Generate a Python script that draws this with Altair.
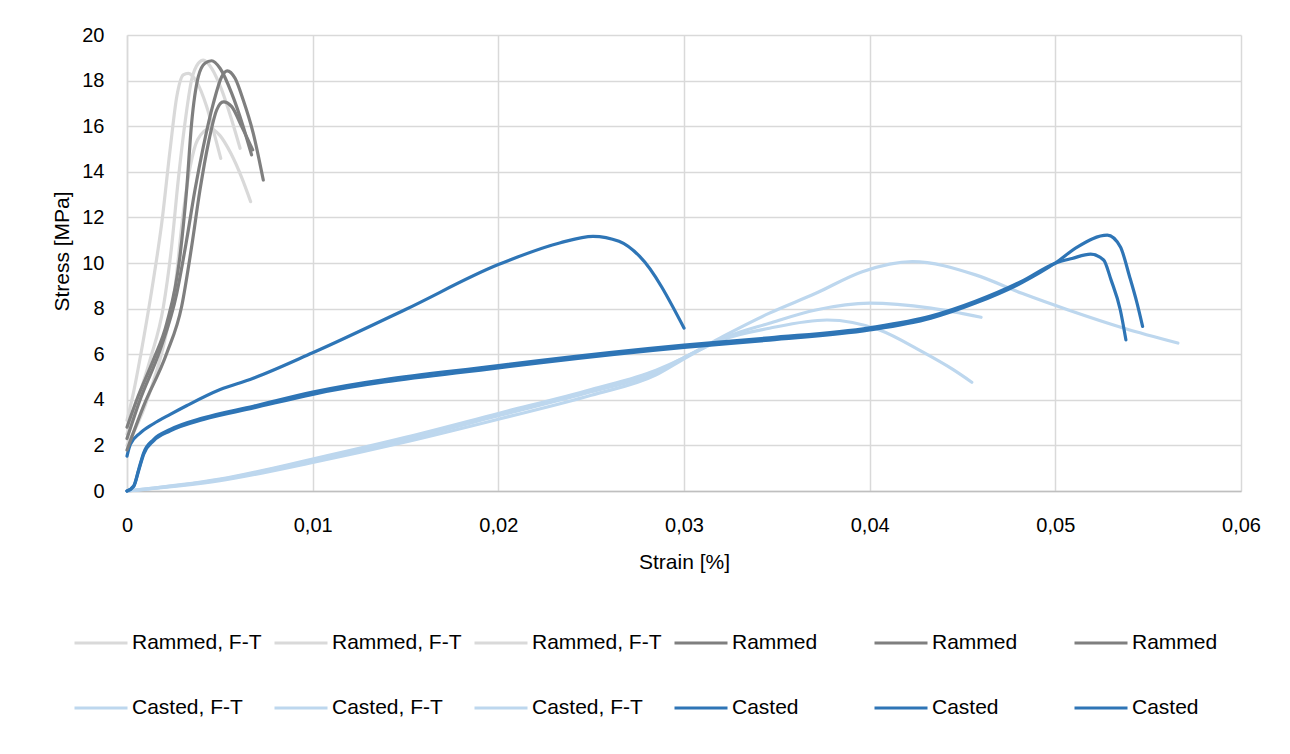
import altair as alt
import pandas as pd

# ---------------- data ----------------
series_names = [
    "Rammed, F-T", "Rammed, F-T ", "Rammed, F-T  ",
    "Rammed", "Rammed ", "Rammed  ",
    "Casted, F-T", "Casted, F-T ", "Casted, F-T  ",
    "Casted", "Casted ", "Casted  ",
]
series_group = ["RFT"] * 3 + ["R"] * 3 + ["CFT"] * 3 + ["C"] * 3
series_colors = ["#d9d9d9"] * 3 + ["#7f7f7f"] * 3 + ["#bdd7ee"] * 3 + ["#2e75b6"] * 3

# Rammed, F-T
rft1_strain = [0, 0.00034, 0.00088, 0.00142, 0.00187, 0.00232, 0.00268, 0.00303, 0.0033, 0.00375, 0.00429, 0.00474, 0.00505]
rft1_stress = [3.1, 4.28, 6.62, 9.25, 11.74, 14.96, 17.29, 18.25, 18.32, 17.95, 16.86, 15.54, 14.59]
rft2_strain = [0, 0.00052, 0.00124, 0.00196, 0.0024, 0.00276, 0.00312, 0.00348, 0.00384, 0.00411, 0.00456, 0.0051, 0.00564, 0.00609]
rft2_stress = [2.5, 3.85, 5.75, 8.08, 10.7, 13.64, 16.13, 18.03, 18.76, 18.9, 18.54, 17.59, 16.27, 15.03]
rft3_strain = [0, 0.001, 0.002, 0.0026, 0.003, 0.0034, 0.0038, 0.00447, 0.005, 0.0056, 0.0062, 0.00666]
rft3_stress = [2.0, 3.8, 6.5, 9.0, 12.0, 14.2, 15.4, 15.9, 15.6, 14.8, 13.7, 12.69]

# Rammed
r1_strain = [0, 0.00052, 0.00142, 0.00214, 0.00285, 0.00321, 0.00348, 0.00384, 0.0042, 0.00456, 0.00501, 0.00564, 0.00626, 0.00671]
r1_stress = [2.8, 3.99, 5.75, 7.35, 10.28, 13.2, 16.13, 18.17, 18.76, 18.87, 18.54, 17.44, 15.98, 14.74]
r2_strain = [0, 0.0007, 0.00178, 0.00268, 0.00321, 0.00366, 0.00411, 0.00465, 0.0051, 0.0054, 0.00582, 0.00626, 0.0068, 0.00734]
r2_stress = [2.3, 3.99, 6.18, 8.67, 11.0, 13.2, 15.1, 17.0, 18.17, 18.43, 18.1, 17.15, 15.69, 13.64]
r3_strain = [0, 0.00088, 0.00214, 0.00294, 0.00348, 0.00393, 0.00438, 0.00483, 0.00519, 0.00564, 0.00618, 0.00677]
r3_stress = [1.8, 3.7, 6.04, 8.08, 10.71, 13.2, 15.25, 16.71, 17.07, 16.86, 15.98, 14.96]

# Casted, F-T
cft1_strain = [0, 0.005, 0.01, 0.015, 0.02, 0.025, 0.0285, 0.03, 0.0321, 0.0346, 0.0371, 0.0396, 0.0423, 0.0457, 0.0482, 0.0507, 0.0537, 0.0566]
cft1_stress = [0, 0.52, 1.4, 2.35, 3.4, 4.45, 5.3, 5.85, 6.78, 7.8, 8.67, 9.62, 10.06, 9.48, 8.67, 7.94, 7.14, 6.49]
cft2_strain = [0, 0.005, 0.01, 0.015, 0.02, 0.025, 0.0285, 0.03, 0.0321, 0.0346, 0.0371, 0.04, 0.0433, 0.046]
cft2_stress = [0, 0.45, 1.25, 2.15, 3.15, 4.2, 5.1, 5.8, 6.7, 7.36, 7.94, 8.24, 8.02, 7.62]
cft3_strain = [0, 0.005, 0.01, 0.015, 0.02, 0.025, 0.0285, 0.03, 0.0321, 0.0346, 0.0377, 0.0405, 0.0428, 0.0445, 0.0455]
cft3_stress = [0, 0.5, 1.35, 2.25, 3.3, 4.35, 5.2, 5.85, 6.65, 7.14, 7.5, 7.07, 6.12, 5.32, 4.77]

# Casted
c1_strain = [0, 0.00018, 0.00072, 0.00143, 0.00233, 0.00323, 0.00502, 0.00663, 0.01, 0.015, 0.02, 0.0233, 0.0251, 0.0265, 0.0276, 0.03]
c1_stress = [1.53, 2.04, 2.55, 2.95, 3.36, 3.75, 4.45, 4.89, 6.06, 7.96, 9.93, 10.88, 11.17, 10.95, 10.3, 7.15]
c2_strain = [0, 0.00036, 0.00063, 0.0009, 0.00143, 0.00233, 0.00412, 0.00681, 0.01, 0.02, 0.0222, 0.03, 0.0346, 0.04, 0.0433, 0.0457, 0.0482, 0.05, 0.0509, 0.0519, 0.0526, 0.053, 0.0535, 0.0538]
c2_stress = [0, 0.22, 0.95, 1.68, 2.26, 2.7, 3.21, 3.72, 4.34, 5.5, 5.72, 6.4, 6.72, 7.16, 7.67, 8.32, 9.2, 9.99, 10.2, 10.39, 10.13, 9.26, 7.94, 6.63]
c3_strain = [0, 0.00036, 0.00063, 0.0009, 0.00143, 0.00233, 0.00412, 0.00681, 0.01, 0.02, 0.0222, 0.03, 0.0346, 0.04, 0.0433, 0.0457, 0.0482, 0.05, 0.0512, 0.0528, 0.0535, 0.054, 0.0544, 0.0547]
c3_stress = [0, 0.2, 0.9, 1.62, 2.2, 2.64, 3.14, 3.64, 4.24, 5.4, 5.62, 6.3, 6.62, 7.06, 7.58, 8.24, 9.14, 10.0, 10.71, 11.22, 10.71, 9.4, 8.24, 7.22]

x_ticks = [0, 0.01, 0.02, 0.03, 0.04, 0.05, 0.06]
y_ticks = [0, 2, 4, 6, 8, 10, 12, 14, 16, 18, 20]

all_strain = [rft1_strain, rft2_strain, rft3_strain, r1_strain, r2_strain, r3_strain,
              cft1_strain, cft2_strain, cft3_strain, c1_strain, c2_strain, c3_strain]
all_stress = [rft1_stress, rft2_stress, rft3_stress, r1_stress, r2_stress, r3_stress,
              cft1_stress, cft2_stress, cft3_stress, c1_stress, c2_stress, c3_stress]

rows = []
for name, grp, xs, ys in zip(series_names, series_group, all_strain, all_stress):
    for i, (xv, yv) in enumerate(zip(xs, ys)):
        rows.append({"series": name, "group": grp, "strain": xv, "stress": yv, "idx": i})
df = pd.DataFrame(rows)

FONT = "Liberation Sans"

color = alt.Color(
    "series:N",
    scale=alt.Scale(domain=series_names, range=series_colors),
    legend=alt.Legend(
        title=None,
        orient="none",
        legendX=-54,
        legendY=580,
        direction="horizontal",
        columns=6,
        gridAlign="all",
        symbolType="stroke",
        symbolSize=2809,
        symbolStrokeWidth=3,
        labelFont=FONT,
        labelFontSize=21,
        labelColor="#000000",
        labelOffset=3,
        labelLimit=300,
        columnPadding=6,
        rowPadding=27,
        padding=0,
        labelExpr="trim(datum.label)",
    ),
)

x_enc = alt.X(
    "strain:Q",
    scale=alt.Scale(domain=[0, 0.06], nice=False),
    axis=alt.Axis(
        values=x_ticks,
        labelExpr="datum.value == 0 ? '0' : replace(format(datum.value, '.2f'), '.', ',')",
        labelFlush=False,
        title="Strain [%]",
        titleY=77,
        titleBaseline="alphabetic",
        labelPadding=24,
        domainColor="#bfbfbf",
        domainWidth=1.5,
    ),
)
y_enc = alt.Y(
    "stress:Q",
    scale=alt.Scale(domain=[0, 20], nice=False),
    axis=alt.Axis(
        values=y_ticks,
        labelFlush=False,
        title="Stress [MPa]",
        titleX=-59,
        titleY=216,
        titleAlign="center",
        titleBaseline="alphabetic",
        titleAngle=270,
        labelPadding=23,
        domainColor="#d9d9d9",
        domainWidth=1.5,
    ),
)

def layer(grp):
    return (
        alt.Chart(df)
        .transform_filter(alt.datum.group == grp)
        .mark_line(strokeWidth=3.2, interpolate="monotone", strokeCap="round", strokeJoin="round")
        .encode(x=x_enc, y=y_enc, color=color, order="idx:Q", detail="series:N")
    )

chart = (
    alt.layer(layer("CFT"), layer("C"), layer("RFT"), layer("R"))
    .properties(
        width=1114,
        height=456,
        autosize=alt.AutoSizeParams(type="none"),
        padding={"left": 119, "top": 27, "right": 30, "bottom": 230},
        background="white",
    )
    .configure_view(strokeWidth=0)
    .configure_axis(
        grid=True,
        gridColor="#d9d9d9",
        gridWidth=1.5,
        ticks=False,
        labelFont=FONT,
        labelFontSize=20,
        labelColor="#000000",
        titleFont=FONT,
        titleFontSize=21,
        titleFontWeight="normal",
        titleColor="#000000",
    )
)

chart.save("out.html", embed_options={"renderer": "svg", "actions": False})
